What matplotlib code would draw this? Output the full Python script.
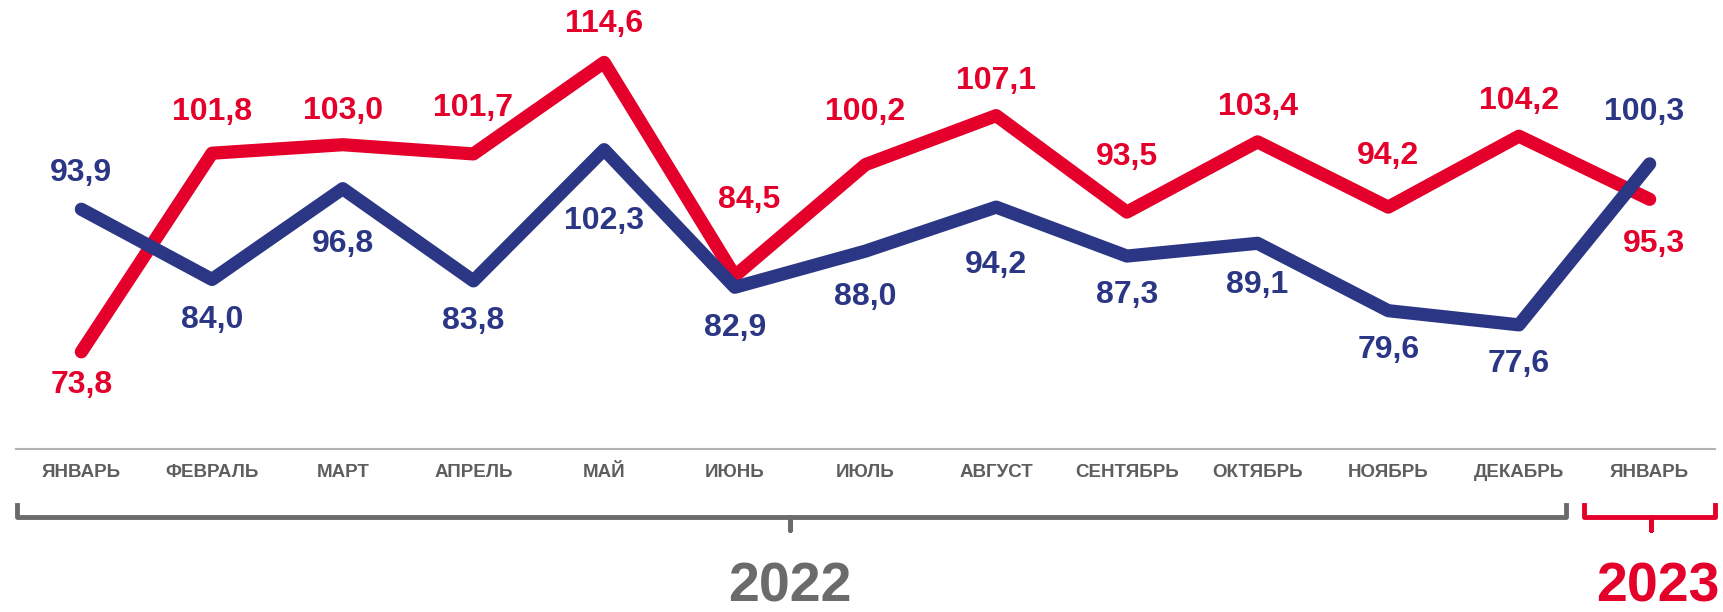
import matplotlib.pyplot as plt
import matplotlib.transforms as mtransforms

# Data
months = ['ЯНВАРЬ', 'ФЕВРАЛЬ', 'МАРТ', 'АПРЕЛЬ', 'МАЙ', 'ИЮНЬ', 'ИЮЛЬ',
          'АВГУСТ', 'СЕНТЯБРЬ', 'ОКТЯБРЬ', 'НОЯБРЬ', 'ДЕКАБРЬ', 'ЯНВАРЬ']
red_vals = [73.8, 101.8, 103.0, 101.7, 114.6, 84.5, 100.2, 107.1, 93.5, 103.4, 94.2, 104.2, 95.3]
blue_vals = [93.9, 84.0, 96.8, 83.8, 102.3, 82.9, 88.0, 94.2, 87.3, 89.1, 79.6, 77.6, 100.3]

# label offsets in points (dx, dy)
red_off = [(0, -24), (0, 30), (0, 24), (0, 33), (0, 28), (10, 55), (0, 38),
           (0, 25), (0, 40), (0, 25), (0, 37), (0, 25), (3, -32)]
blue_off = [(0, 26), (0, -29), (0, -40), (0, -29), (0, -51), (0, -29), (0, -33),
            (0, -42), (0, -28), (0, -30), (0, -28), (0, -28), (-4, 37)]

RED = '#e4002b'
BLUE = '#2b3784'
GRAY = '#6b6b6b'
FONT = 'Liberation Sans'


def fmt(v):
    return f'{v:.1f}'.replace('.', ',')


fig = plt.figure(figsize=(17.24, 6.12), dpi=100)
ax = fig.add_axes([16 / 1724, 163 / 612, (1715 - 16) / 1724, 449 / 612])

x = list(range(len(months)))
ax.plot(x, red_vals, color=RED, lw=9.5, solid_capstyle='round', solid_joinstyle='round', zorder=2)
ax.plot(x, blue_vals, color=BLUE, lw=9.5, solid_capstyle='round', solid_joinstyle='round', zorder=3)

for i, v in enumerate(red_vals):
    ax.annotate(fmt(v), (i, v), xytext=red_off[i], textcoords='offset points',
                ha='center', va='center', color=RED, fontsize=23,
                fontweight='bold', family=FONT)
for i, v in enumerate(blue_vals):
    ax.annotate(fmt(v), (i, v), xytext=blue_off[i], textcoords='offset points',
                ha='center', va='center', color=BLUE, fontsize=23,
                fontweight='bold', family=FONT)

ax.set_xlim(-0.5, 12.5)
ax.set_ylim(60.1, 123.4)
ax.set_yticks([])
ax.set_xticks([])
for s in ['top', 'left', 'right']:
    ax.spines[s].set_visible(False)
ax.spines['bottom'].set_color('#b3b3b3')
ax.spines['bottom'].set_linewidth(1.5)

# month labels and braces below the axis
trans = mtransforms.blended_transform_factory(ax.transData, fig.transFigure)
for i, m in enumerate(months):
    fig.text(i, 0.228, m, transform=trans, ha='center', va='center',
             color='#5e5e5e', fontsize=13.5, fontweight='bold', family=FONT)

yb, ye, yt = 0.155, 0.175, 0.134
ax.plot([-0.49, -0.49, 5.42, 5.42, 5.42, 11.36, 11.36],
        [ye, yb, yb, yt, yb, yb, ye], color=GRAY, lw=3.5,
        transform=trans, clip_on=False, solid_joinstyle='round')
ax.plot([11.5, 11.5, 12.01, 12.01, 12.01, 12.5, 12.5],
        [ye, yb, yb, yt, yb, yb, ye], color=RED, lw=3.5,
        transform=trans, clip_on=False, solid_joinstyle='round')

fig.text(5.42, 0.04, '2022', transform=trans, ha='center', va='center',
         color=GRAY, fontsize=40, fontweight='bold', family=FONT)
fig.text(12.06, 0.04, '2023', transform=trans, ha='center', va='center',
         color=RED, fontsize=40, fontweight='bold', family=FONT)

fig.savefig('out.png', dpi=100)
